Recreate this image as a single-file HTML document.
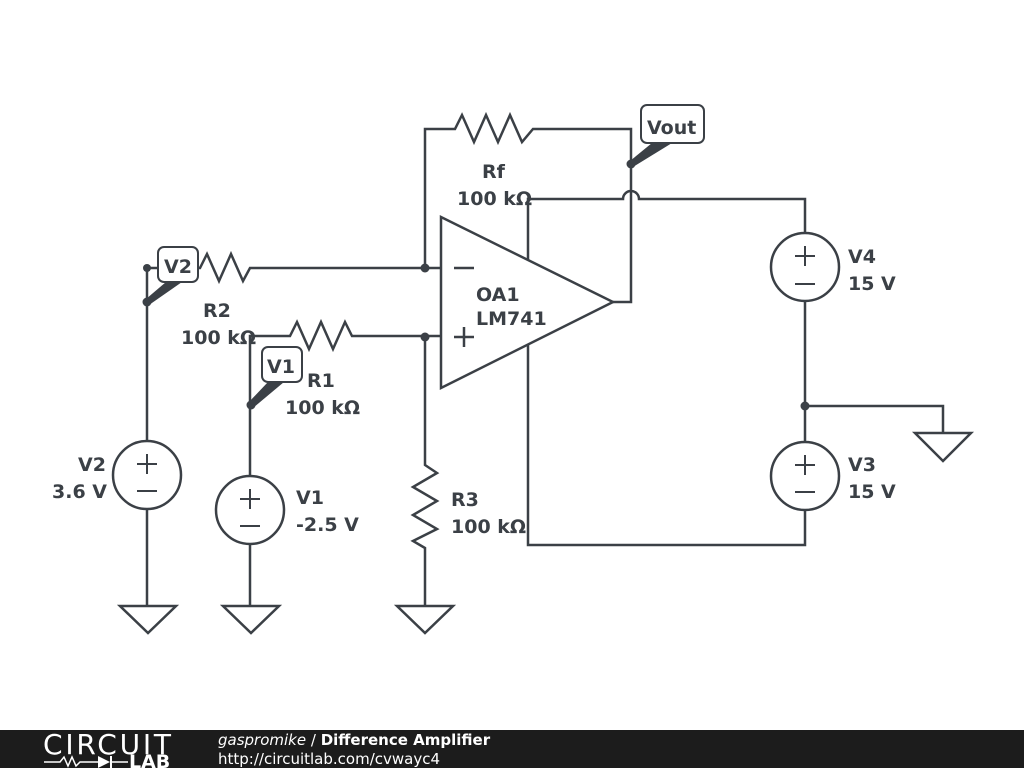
<!DOCTYPE html>
<html><head><style>
body{margin:0;background:#fff;}
svg{display:block;}
text{font-family:"DejaVu Sans","Liberation Sans",sans-serif;}
</style></head><body>
<svg width="1024" height="768" viewBox="0 0 1024 768" xmlns="http://www.w3.org/2000/svg">
<rect width="1024" height="768" fill="#fff"/>
<g fill="none" stroke="#3b4046" stroke-width="2.5" stroke-linejoin="miter">
<!-- V2 branch -->
<polyline points="147,268 200,268 207,254 219,281 231,254 243,281 250,268 258,268 425,268"/>
<line x1="147" y1="268" x2="147" y2="441"/>
<circle cx="147" cy="475" r="34"/>
<line x1="147" y1="509" x2="147" y2="606"/>
<polygon points="120,606 176,606 148,633"/>
<!-- V1 branch -->
<polyline points="250,475 250,336 283,336 290,336 297,322 309,349 321,322 333,349 345,322 352,336 358,336 441,336"/>
<circle cx="250" cy="510" r="34"/>
<line x1="250" y1="544" x2="250" y2="606"/>
<polygon points="223,606 279,606 251,633"/>
<!-- R3 -->
<polyline points="425,336 425,465 437,473 413,487 437,501 413,515 437,529 413,541 425,548 425,606"/>
<polygon points="397,606 453,606 425,633"/>
<!-- Feedback -->
<polyline points="425,268 425,129 455,129 462,115 474,142 486,115 498,142 510,115 522,142 533,129 631,129 631,302 613,302"/>
<line x1="425" y1="268" x2="441" y2="268"/>
<!-- opamp -->
<polygon points="441,217 441,388 613,302"/>
<line x1="454" y1="268" x2="474" y2="268"/>
<line x1="454" y1="337" x2="474" y2="337"/>
<line x1="464" y1="327" x2="464" y2="347"/>
<!-- supply -->
<path d="M528,260 L528,199 L623,199 A8,8 0 0 1 639,199 L805,199 L805,233"/>
<circle cx="805" cy="267" r="34"/>
<line x1="805" y1="301" x2="805" y2="442"/>
<circle cx="805" cy="476" r="34"/>
<polyline points="805,510 805,545 528,545 528,345"/>
<polyline points="805,406 943,406 943,433"/>
<polygon points="915,433 971,433 943,461"/>
<!-- source symbols -->
<g stroke-width="2">
<line x1="137" y1="464" x2="157" y2="464"/><line x1="147" y1="454" x2="147" y2="474"/><line x1="137" y1="491" x2="157" y2="491"/>
<line x1="240" y1="499" x2="260" y2="499"/><line x1="250" y1="489" x2="250" y2="509"/><line x1="240" y1="526" x2="260" y2="526"/>
<line x1="795" y1="256" x2="815" y2="256"/><line x1="805" y1="246" x2="805" y2="266"/><line x1="795" y1="284" x2="815" y2="284"/>
<line x1="795" y1="465" x2="815" y2="465"/><line x1="805" y1="455" x2="805" y2="475"/><line x1="795" y1="492" x2="815" y2="492"/>
</g>
<!-- probes -->
<rect x="158" y="247" width="40" height="35" rx="6" fill="#fff" stroke-width="2"/>
<rect x="262" y="347" width="40" height="35" rx="6" fill="#fff" stroke-width="2"/>
<rect x="641" y="105" width="63" height="38" rx="6" fill="#fff" stroke-width="2"/>
</g>
<g fill="#3b4046">
<circle cx="425" cy="268" r="4.5"/><circle cx="425" cy="337" r="4.5"/><circle cx="805" cy="406" r="4.5"/>
<circle cx="147" cy="268" r="4"/>
<circle cx="147" cy="302" r="4.5"/><polygon points="146,299 166,282 182,282 149,305"/>
<circle cx="251" cy="405" r="4.5"/><polygon points="249,402 268,382 284,382 253,408"/>
<circle cx="631" cy="164" r="4.5"/><polygon points="630,161 652,143 672,143 633,167"/>
</g>
<g fill="#3b4046" font-size="19" font-weight="bold">
<text x="164" y="273">V2</text>
<text x="267" y="373">V1</text>
<text x="647" y="134">Vout</text>
<text x="482" y="178">Rf</text>
<text x="457" y="205">100 kΩ</text>
<text x="203" y="317">R2</text>
<text x="181" y="344">100 kΩ</text>
<text x="307" y="387">R1</text>
<text x="285" y="414">100 kΩ</text>
<text x="476" y="301">OA1</text>
<text x="476" y="325">LM741</text>
<text x="78" y="471">V2</text>
<text x="52" y="498">3.6 V</text>
<text x="296" y="504">V1</text>
<text x="296" y="531">-2.5 V</text>
<text x="451" y="506">R3</text>
<text x="451" y="533">100 kΩ</text>
<text x="848" y="263">V4</text>
<text x="848" y="290">15 V</text>
<text x="848" y="471">V3</text>
<text x="848" y="498">15 V</text>
</g>
<rect x="0" y="730" width="1024" height="38" fill="#1c1c1c"/>
<text x="43" y="754" fill="#fff" font-size="28" font-family="Liberation Sans,sans-serif" style="letter-spacing:0px" textLength="128">CIRCUIT</text>
<polyline points="44,762 60,762 64,757 68,766 72,757 76,766 80,762 98,762" fill="none" stroke="#fff" stroke-width="1.5"/>
<polygon points="98,756 98,768 110,762" fill="#fff"/>
<line x1="111" y1="756" x2="111" y2="768" stroke="#fff" stroke-width="2"/>
<line x1="111" y1="762" x2="128" y2="762" stroke="#fff" stroke-width="1.5"/>
<text x="129" y="768" fill="#fff" font-size="19" font-weight="bold" font-family="Liberation Sans,sans-serif">LAB</text>
<text x="218" y="745" fill="#fff" font-size="15"><tspan font-style="italic">gaspromike</tspan> / <tspan font-weight="bold">Difference Amplifier</tspan></text>
<text x="218" y="764" fill="#fff" font-size="15">http://circuitlab.com/cvwayc4</text>
</svg>
</body></html>
